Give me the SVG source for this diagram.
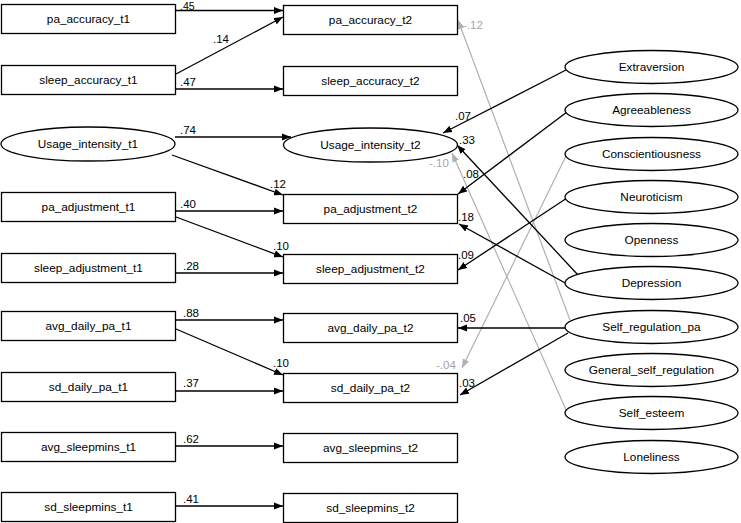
<svg xmlns="http://www.w3.org/2000/svg" width="741" height="523" viewBox="0 0 741 523">
<style>
.box{fill:#fff;stroke:#000;stroke-width:1.3}
.t{font-family:"Liberation Sans",Arial,sans-serif;font-size:11.8px;fill:#000;text-anchor:middle}
.l{font-family:"Liberation Sans",Arial,sans-serif;font-size:11.5px;fill:#000}
.lg{font-family:"Liberation Sans",Arial,sans-serif;font-size:11.5px;fill:#a6a6a6}
.c{stroke:#000;stroke-width:1.3;fill:none;marker-end:url(#ah)}
.g{stroke:#b0b0b0;stroke-width:1.2;fill:none;marker-end:url(#ahg)}
</style>
<defs>
<marker id="ah" markerUnits="userSpaceOnUse" markerWidth="10" markerHeight="8" refX="9" refY="4" orient="auto"><path d="M0,0.5 L9,4 L0,7.5 z" fill="#000"/></marker>
<marker id="ahg" markerUnits="userSpaceOnUse" markerWidth="10" markerHeight="8" refX="9" refY="4" orient="auto"><path d="M0,0.5 L9,4 L0,7.5 z" fill="#b0b0b0"/></marker>
</defs>
<rect width="741" height="523" fill="#fff"/>
<g id="connectors">
<path class="c" d="M176,10.5 L283,10.5"/>
<path class="c" d="M176,74 L283,17"/>
<path class="c" d="M176,89 L283,89"/>
<path class="c" d="M175,137 L291,137"/>
<path class="c" d="M172,155 L283,195"/>
<path class="c" d="M176,211 L283,211"/>
<path class="c" d="M176,217 L283,257"/>
<path class="c" d="M176,273 L283,273"/>
<path class="c" d="M176,320 L283,320"/>
<path class="c" d="M176,329 L283,375"/>
<path class="c" d="M176,391 L283,391"/>
<path class="c" d="M176,446 L283,446"/>
<path class="c" d="M176,506 L283,506"/>
<path class="g" d="M570,320 L458,20"/>
<path class="g" d="M567,412 L452,153"/>
<path class="g" d="M566,156 L462,368"/>
<path class="c" d="M566,70 L443,133"/>
<path class="c" d="M567,112 L458,194"/>
<path class="c" d="M578,275 L457,145"/>
<path class="c" d="M567,284 L459,224"/>
<path class="c" d="M567,198 L458,270"/>
<path class="c" d="M565,328 L458,328"/>
<path class="c" d="M568,333 L460,395"/>
<text class="l" x="180" y="9.5" style="font-size:10.5px">.45</text>
<text class="l" x="213" y="43">.14</text>
<text class="l" x="180" y="86">.47</text>
<text class="l" x="180" y="134">.74</text>
<text class="l" x="270" y="188">.12</text>
<text class="l" x="180" y="208">.40</text>
<text class="l" x="273" y="250">.10</text>
<text class="l" x="183" y="270">.28</text>
<text class="l" x="183" y="317">.88</text>
<text class="l" x="273" y="367">.10</text>
<text class="l" x="183" y="387">.37</text>
<text class="l" x="183" y="443">.62</text>
<text class="l" x="183" y="503">.41</text>
<text class="l" x="455" y="120">.07</text>
<text class="l" x="459" y="144">.33</text>
<text class="l" x="463" y="178">.08</text>
<text class="l" x="458" y="221">.18</text>
<text class="l" x="458" y="259">.09</text>
<text class="l" x="460" y="322">.05</text>
<text class="l" x="459" y="387">.03</text>
<text class="lg" x="463" y="29">-.12</text>
<text class="lg" x="429" y="167">-.10</text>
<text class="lg" x="436" y="369">-.04</text>
</g>
<g id="pa_accuracy_t1"><rect class="box" x="1.5" y="4.5" width="174" height="29"/><text class="t" x="88.5" y="23">pa_accuracy_t1</text></g>
<g id="sleep_accuracy_t1"><rect class="box" x="1.5" y="65.5" width="174" height="29"/><text class="t" x="88.5" y="84">sleep_accuracy_t1</text></g>
<g id="Usage_intensity_t1"><ellipse class="box" cx="88" cy="144" rx="87" ry="17"/><text class="t" x="88" y="148">Usage_intensity_t1</text></g>
<g id="pa_adjustment_t1"><rect class="box" x="1.5" y="192.5" width="174" height="29"/><text class="t" x="88.5" y="211">pa_adjustment_t1</text></g>
<g id="sleep_adjustment_t1"><rect class="box" x="1.5" y="253.5" width="174" height="29"/><text class="t" x="88.5" y="272">sleep_adjustment_t1</text></g>
<g id="avg_daily_pa_t1"><rect class="box" x="1.5" y="311.5" width="174" height="29"/><text class="t" x="88.5" y="330">avg_daily_pa_t1</text></g>
<g id="sd_daily_pa_t1"><rect class="box" x="1.5" y="372.5" width="174" height="29"/><text class="t" x="88.5" y="391">sd_daily_pa_t1</text></g>
<g id="avg_sleepmins_t1"><rect class="box" x="1.5" y="432.5" width="174" height="29"/><text class="t" x="88.5" y="451">avg_sleepmins_t1</text></g>
<g id="sd_sleepmins_t1"><rect class="box" x="1.5" y="492.5" width="174" height="29"/><text class="t" x="88.5" y="511">sd_sleepmins_t1</text></g>
<g id="pa_accuracy_t2"><rect class="box" x="283.5" y="5.5" width="174" height="29"/><text class="t" x="370.5" y="24">pa_accuracy_t2</text></g>
<g id="sleep_accuracy_t2"><rect class="box" x="283.5" y="66.5" width="174" height="29"/><text class="t" x="370.5" y="85">sleep_accuracy_t2</text></g>
<g id="Usage_intensity_t2"><ellipse class="box" cx="370.5" cy="145" rx="87" ry="17"/><text class="t" x="370.5" y="149">Usage_intensity_t2</text></g>
<g id="pa_adjustment_t2"><rect class="box" x="283.5" y="194.5" width="174" height="29"/><text class="t" x="370.5" y="213">pa_adjustment_t2</text></g>
<g id="sleep_adjustment_t2"><rect class="box" x="283.5" y="254.5" width="174" height="29"/><text class="t" x="370.5" y="273">sleep_adjustment_t2</text></g>
<g id="avg_daily_pa_t2"><rect class="box" x="283.5" y="313.5" width="174" height="29"/><text class="t" x="370.5" y="332">avg_daily_pa_t2</text></g>
<g id="sd_daily_pa_t2"><rect class="box" x="283.5" y="373.5" width="174" height="29"/><text class="t" x="370.5" y="392">sd_daily_pa_t2</text></g>
<g id="avg_sleepmins_t2"><rect class="box" x="283.5" y="433.5" width="174" height="29"/><text class="t" x="370.5" y="452">avg_sleepmins_t2</text></g>
<g id="sd_sleepmins_t2"><rect class="box" x="283.5" y="493.5" width="174" height="29"/><text class="t" x="370.5" y="512">sd_sleepmins_t2</text></g>
<g id="Extraversion"><ellipse class="box" cx="651.5" cy="67" rx="86.5" ry="16.5"/><text class="t" x="651.5" y="71">Extraversion</text></g>
<g id="Agreeableness"><ellipse class="box" cx="651.5" cy="110" rx="86.5" ry="16.5"/><text class="t" x="651.5" y="114">Agreeableness</text></g>
<g id="Conscientiousness"><ellipse class="box" cx="651.5" cy="154" rx="86.5" ry="16.5"/><text class="t" x="651.5" y="158">Conscientiousness</text></g>
<g id="Neuroticism"><ellipse class="box" cx="651.5" cy="197" rx="86.5" ry="16.5"/><text class="t" x="651.5" y="201">Neuroticism</text></g>
<g id="Openness"><ellipse class="box" cx="651.5" cy="240" rx="86.5" ry="16.5"/><text class="t" x="651.5" y="244">Openness</text></g>
<g id="Depression"><ellipse class="box" cx="651.5" cy="283" rx="86.5" ry="16.5"/><text class="t" x="651.5" y="287">Depression</text></g>
<g id="Self_regulation_pa"><ellipse class="box" cx="651.5" cy="327" rx="86.5" ry="16.5"/><text class="t" x="651.5" y="331">Self_regulation_pa</text></g>
<g id="General_self_regulation"><ellipse class="box" cx="651.5" cy="370" rx="86.5" ry="16.5"/><text class="t" x="651.5" y="374">General_self_regulation</text></g>
<g id="Self_esteem"><ellipse class="box" cx="651.5" cy="413" rx="86.5" ry="16.5"/><text class="t" x="651.5" y="417">Self_esteem</text></g>
<g id="Loneliness"><ellipse class="box" cx="651.5" cy="457" rx="86.5" ry="16.5"/><text class="t" x="651.5" y="461">Loneliness</text></g>
</svg>
